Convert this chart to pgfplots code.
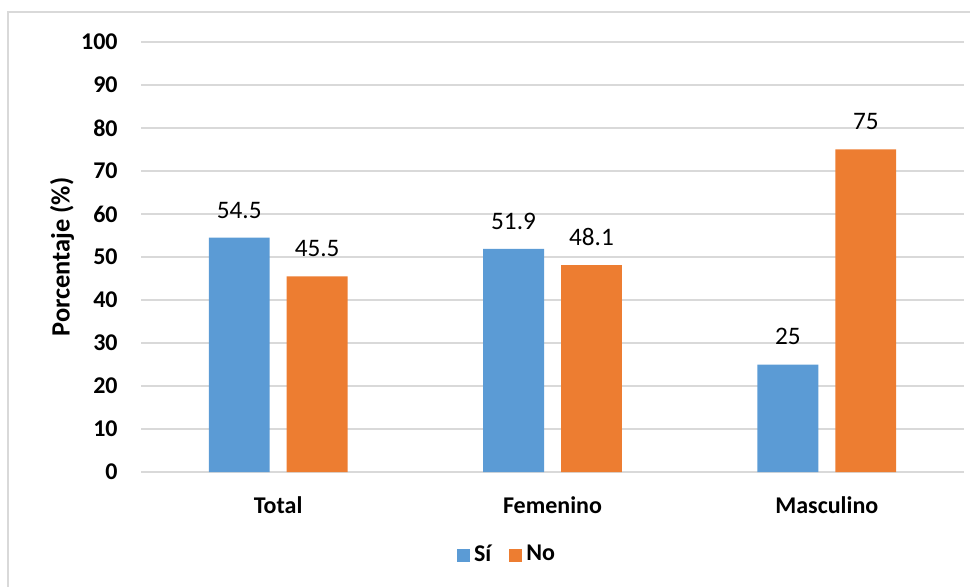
\documentclass[border=0pt]{standalone}
\usepackage{pgfplots}
\pgfplotsset{compat=1.18}
\usepackage{fontspec}
\setmainfont{Carlito}
\definecolor{cblue}{HTML}{5B9BD5}
\definecolor{corange}{HTML}{ED7D31}
\definecolor{cgrid}{HTML}{D9D9D9}
\begin{document}
\fontsize{12}{14}\selectfont
\begin{tikzpicture}[x=0.5pt,y=-0.5pt]
\path[use as bounding box] (0,0) rectangle (979,587);
\draw[cgrid, line width=0.9pt] (8,587) -- (8,12) -- (970,12);
\begin{axis}[
  at={(141pt*0.5,-472pt*0.5)}, anchor=south west,
  scale only axis, width=411.5pt, height=215pt,
  xmin=-0.5, xmax=2.5, ymin=0, ymax=100,
  ytick={0,10,...,100},
  xtick={0,1,2},
  xticklabels={Total,Femenino,Masculino},
  axis line style={draw=none},
  axis x line*=bottom,
  ymajorgrids, grid style={cgrid, line width=0.9pt},
  major tick length=0pt,
  tick label style={font=\fontsize{12}{14}\selectfont\bfseries},
  /pgf/number format/assume math mode=true,
  yticklabel style={anchor=east, inner sep=0pt, xshift=-11.5pt},
  xticklabel style={anchor=north, inner sep=0pt, yshift=-12pt},
  ylabel={\bfseries Porcentaje (\%)},
  ylabel style={font=\fontsize{13.2}{15}\selectfont\bfseries, at={(axis description cs:-0.096,0.5)}, anchor=center},
  ybar, bar width=0.222,
  nodes near coords,
  nodes near coords style={font=\fontsize{12.6}{15}\selectfont, anchor=south, inner sep=0pt, yshift=9.5pt, text=black},
  legend columns=2,
  legend style={draw=none, at={(367pt*0.5,-83pt*0.5)}, anchor=center, font=\fontsize{12}{14}\selectfont\bfseries,
    /tikz/every even column/.append style={column sep=7pt}},
  legend image code/.code={\fill[#1] (0pt,-3.25pt) rectangle (6.5pt,3.25pt);},
  clip=false,
]
\draw[cgrid, line width=0.9pt] (axis cs:-0.5,0) -- (axis cs:2.5,0);
\addplot[fill=cblue, draw=none, bar shift=-0.142] coordinates {(0,54.5) (1,51.9) (2,25)};
\addplot[fill=corange, draw=none, bar shift=0.142] coordinates {(0,45.5) (1,48.1) (2,75)};
\legend{Sí,No}
\end{axis}
\end{tikzpicture}
\end{document}
